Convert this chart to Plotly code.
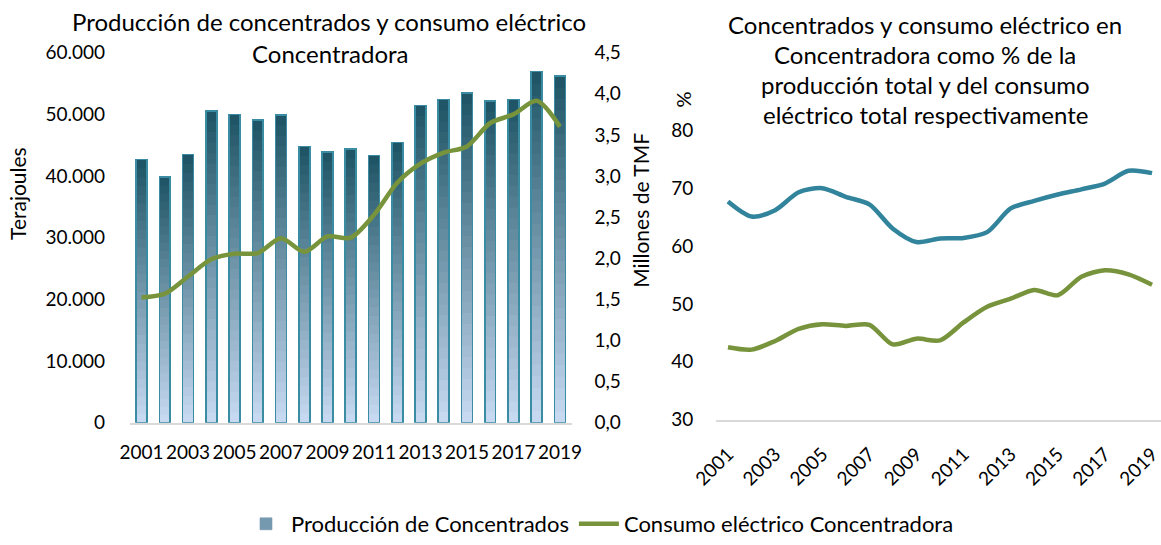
import plotly.graph_objects as go

years = [str(y) for y in range(2001, 2020)]
# Producción de concentrados (millones de TMF)
produccion = [3.20, 2.99, 3.26, 3.79, 3.75, 3.68, 3.74, 3.36, 3.29, 3.33,
              3.25, 3.41, 3.86, 3.93, 4.01, 3.91, 3.93, 4.27, 4.22]
# Consumo eléctrico concentradora (Terajoules)
consumo = [20300, 20900, 23700, 26500, 27400, 27500, 29900, 27700, 30200, 30000,
           33700, 38900, 42000, 43800, 44800, 48600, 50000, 52200, 48000]
# % de la producción total / del consumo eléctrico total
pct_concentrados = [67.7, 65.1, 66.2, 69.3, 70.0, 68.5, 67.2, 63.0, 60.7, 61.3,
                    61.4, 62.4, 66.5, 67.8, 68.9, 69.8, 70.8, 73.0, 72.6]
pct_electrico = [42.5, 42.1, 43.6, 45.7, 46.5, 46.2, 46.4, 43.0, 44.0, 43.7,
                 46.8, 49.5, 50.9, 52.4, 51.5, 54.7, 55.8, 55.1, 53.3]
tick_years = years[::2]

FONT = "Lato"
W, H = 1161, 545
BOTTOM = (198, 217, 241)
TOP = (31, 85, 102)
N = 30

def px_x(p):
    return p / W

def px_y(p):
    return 1 - p / H

fig = go.Figure()

# gradient bars: stacked slices of each bar
for k in range(N):
    t = k / (N - 1)
    c = tuple(round(BOTTOM[i] + (TOP[i] - BOTTOM[i]) * t) for i in range(3))
    col = "rgb(%d,%d,%d)" % c
    fig.add_trace(go.Bar(
        x=years, y=[v / N for v in produccion], xaxis="x", yaxis="y",
        marker=dict(color=col, line=dict(color=col, width=0.6)),
        width=0.47, name="Producción de Concentrados",
        showlegend=(k == 14), legendrank=1, hoverinfo="skip"))

# bar outline
fig.add_trace(go.Bar(
    x=years, y=produccion, xaxis="x", yaxis="y2", width=0.47,
    marker=dict(color="rgba(0,0,0,0)", line=dict(color="#3A8CA3", width=1.6)),
    showlegend=False, name="Producción de Concentrados"))

fig.add_trace(go.Scatter(
    x=years, y=consumo, xaxis="x", yaxis="y3", mode="lines",
    line=dict(color="#77933C", width=4.5, shape="spline", smoothing=0.8),
    name="Consumo eléctrico Concentradora", legendrank=2))

fig.add_trace(go.Scatter(
    x=years, y=pct_concentrados, xaxis="x2", yaxis="y4", mode="lines",
    line=dict(color="#31849B", width=4.5, shape="spline", smoothing=0.8),
    showlegend=False, name="Concentrados"))
fig.add_trace(go.Scatter(
    x=years, y=pct_electrico, xaxis="x2", yaxis="y4", mode="lines",
    line=dict(color="#77933C", width=4.5, shape="spline", smoothing=0.8),
    showlegend=False, name="Consumo eléctrico"))

tickfont = dict(family=FONT, size=19, color="#000000")
left_dom = [px_x(129.9), px_x(571.6)]
ydom_left = [px_y(425), px_y(53)]

fig.update_layout(
    template="none",
    width=W, height=H,
    margin=dict(l=0, r=0, t=0, b=0, pad=0),
    paper_bgcolor="white", plot_bgcolor="rgba(0,0,0,0)",
    separators=",.",
    barmode="stack", bargap=0.53,
    font=dict(family=FONT, size=19, color="#000000"),
    xaxis=dict(domain=left_dom, type="category", range=[-0.5, 18.5],
               tickmode="array", tickvals=tick_years, ticktext=tick_years,
               tickangle=0, automargin=False,
               showline=True, linecolor="#D9D9D9", linewidth=2,
               ticks="outside", ticklen=12, tickcolor="rgba(0,0,0,0)",
               tickfont=tickfont, showgrid=False, zeroline=False, anchor="y"),
    yaxis=dict(domain=ydom_left, range=[0, 4.5], side="right", anchor="x",
               automargin=False, showline=False,
               dtick=0.5, tickformat=".1f", showgrid=False, zeroline=False,
               ticks="outside", ticklen=18, tickcolor="rgba(0,0,0,0)",
               tickfont=tickfont),
    yaxis2=dict(range=[0, 4.5], overlaying="y", visible=False, automargin=False),
    yaxis3=dict(range=[0, 60000], overlaying="y", side="left", anchor="x",
                automargin=False, showline=False,
                dtick=10000, tickformat=",.0f", showgrid=False, zeroline=False,
                ticks="outside", ticklen=20, tickcolor="rgba(0,0,0,0)",
                tickfont=tickfont),
    xaxis2=dict(domain=[px_x(716.2), 1.0], type="category", range=[-0.5, 18.38],
                tickmode="array", tickvals=tick_years, ticktext=tick_years,
                tickangle=-45, automargin=False,
                showline=True, linecolor="#D9D9D9", linewidth=2,
                ticks="outside", ticklen=14, tickcolor="rgba(0,0,0,0)",
                tickfont=tickfont, showgrid=False, zeroline=False, anchor="y4"),
    yaxis4=dict(domain=[px_y(422), px_y(131)], range=[30, 80], dtick=10,
                anchor="x2", automargin=False, showline=False,
                showgrid=False, zeroline=False,
                ticks="outside", ticklen=18, tickcolor="rgba(0,0,0,0)",
                tickfont=tickfont),
    legend=dict(orientation="h", x=px_x(600), xanchor="center",
                y=px_y(527), yanchor="middle", bgcolor="rgba(0,0,0,0)",
                font=dict(family=FONT, size=22, color="#000000"),
                traceorder="normal", itemwidth=40),
)

ann = []
def add_text(text, x, y, size=24, angle=0):
    ann.append(dict(text=text, x=px_x(x), y=px_y(y), xref="paper", yref="paper",
                    xanchor="center", yanchor="middle", showarrow=False,
                    textangle=angle, font=dict(family=FONT, size=size, color="#000000")))

add_text("Producción de concentrados y consumo eléctrico", 329, 22)
add_text("Concentradora", 330, 54)
for txt, yy in [("Concentrados y consumo eléctrico en", 25),
                ("Concentradora como % de la", 55),
                ("producción total y del consumo", 85),
                ("eléctrico total respectivamente", 115)]:
    add_text(txt, 925, yy)
add_text("Terajoules", 18, 195, size=21, angle=-90)
add_text("Millones de TMF", 641, 212, size=21, angle=-90)
add_text("%", 683, 100, size=20, angle=-90)

fig.update_layout(annotations=ann)
fig.write_html("out.html", config={"displayModeBar": False},
               post_script="document.body.style.margin='0px';document.body.style.padding='0px';")
